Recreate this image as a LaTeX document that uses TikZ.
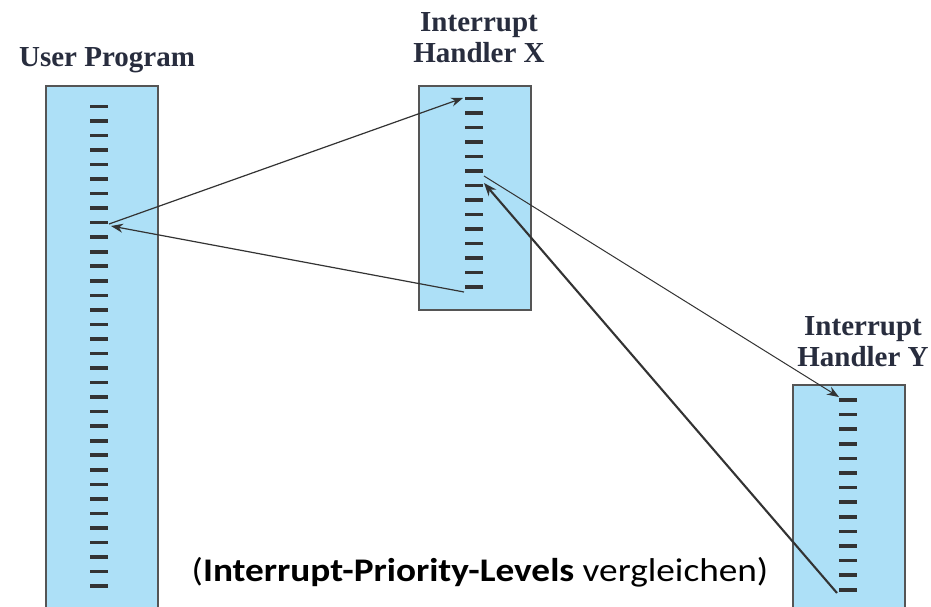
\documentclass[tikz,border=0pt]{standalone}
\usepackage{fontspec}
\setmainfont{Liberation Serif}
\newfontfamily\capfont{Carlito}
\usetikzlibrary{arrows.meta}
\definecolor{stackfill}{RGB}{173,224,247}
\definecolor{stackedge}{RGB}{85,85,85}
\definecolor{tick}{RGB}{51,51,51}
\definecolor{titleink}{RGB}{40,45,62}
\tikzset{
  stackbox/.style={draw=stackedge, line width=1.5pt, fill=stackfill},
  instr/.style={draw=tick, line width=3.6pt},
  title/.style={font=\fontsize{29}{31}\selectfont\bfseries, text=titleink, align=center, inner sep=0pt},
  flow/.style={draw=tick, line width=1.2pt, -{Stealth[length=12pt,width=9pt]}},
  flowbold/.style={draw=tick, line width=2.1pt, -{Stealth[length=13pt,width=10pt]}},
}
\begin{document}
\begin{tikzpicture}[x=1pt, y=-1pt]
\clip (0,0) rectangle (931,606);
\fill[white] (0,0) rectangle (931,606);

% program stacks
\node[stackbox, minimum width=112pt, minimum height=535pt, anchor=north west, inner sep=0pt] (user) at (45,85) {};
\node[stackbox, minimum width=112pt, minimum height=224pt, anchor=north west, inner sep=0pt] (hx) at (418,85) {};
\node[stackbox, minimum width=112pt, minimum height=236pt, anchor=north west, inner sep=0pt] (hy) at (792,384) {};

% titles
\node[title] (tuser) at (107,60) {User Program};
\node[title] (thx) at (479,38) {Interrupt\\Handler X};
\node[title] (thy) at (863,342) {Interrupt\\Handler Y};

% instruction ticks
\foreach \k in {0,...,33}
  \draw[instr] (90,106.3+14.54*\k) -- (108,106.3+14.54*\k);
\foreach \k in {0,...,13}
  \draw[instr] (465,98.3+14.5*\k) -- (483,98.3+14.5*\k);
\foreach \k in {0,...,13}
  \draw[instr] (839,400+14.6*\k) -- (857,400+14.6*\k);

% control transfer points
\coordinate (uout) at (109,224);
\coordinate (uin) at (111,226);
\coordinate (xin) at (463,98);
\coordinate (xout) at (464,292);
\coordinate (xsave) at (484,176);
\coordinate (xres) at (484,183);
\coordinate (yin) at (839,397);
\coordinate (yout) at (837,593);

% transfers
\draw[flow] (uout) -- (xin);
\draw[flow] (xout) -- (uin);
\draw[flow, line width=1pt] (xsave) -- (yin);
\draw[flowbold] (yout) -- (xres);

% caption
\node[font=\capfont\fontsize{33}{35}\selectfont, inner sep=0pt, anchor=base, xscale=1.13] (cap) at (480,581) {(\textbf{Interrupt-Priority-Levels} vergleichen)};
\end{tikzpicture}
\end{document}
